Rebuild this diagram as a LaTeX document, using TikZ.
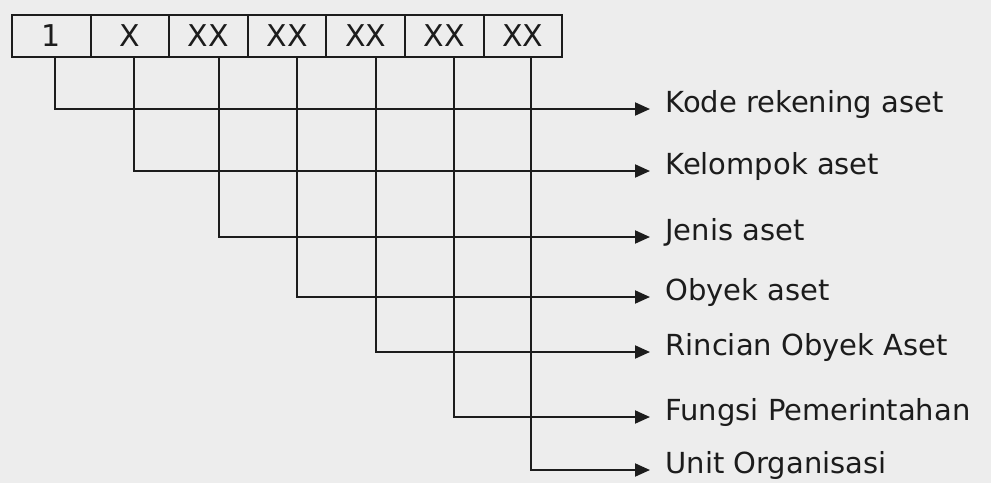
\documentclass[tikz,border=0pt]{standalone}
\usepackage{fontspec}
\setmainfont{DejaVu Sans}
\usepackage{xcolor}
\usepackage{tikz}
\usetikzlibrary{positioning,arrows.meta}
\definecolor{paper}{RGB}{237,237,237}
\definecolor{ink}{RGB}{28,28,28}

\begin{document}
\begin{tikzpicture}[x=0.5pt,y=-0.5pt,>={Triangle[length=7.5pt,width=6.5pt]},
  every node/.style={text=ink},
  cell/.style={draw=ink,line width=1pt,minimum width=39.3pt,minimum height=21pt,
    inner sep=0pt,outer sep=0pt,font=\fontsize{15}{18}\selectfont},
  lbl/.style={anchor=west,inner xsep=7.5pt,inner ysep=0pt,text height=3.5pt,
    text depth=0pt,font=\fontsize{14.5}{17}\selectfont},
  link/.style={draw=ink,line width=1pt,->}]
  \fill[paper] (0,0) rectangle (991,483);
  % kotak kode
  \node[cell] (c1) at (51.3,36) {1};
  \node[cell,right=0pt of c1] (c2) {X};
  \node[cell,right=0pt of c2] (c3) {XX};
  \node[cell,right=0pt of c3] (c4) {XX};
  \node[cell,right=0pt of c4] (c5) {XX};
  \node[cell,right=0pt of c5] (c6) {XX};
  \node[cell,right=0pt of c6] (c7) {XX};
  % keterangan
  \node[lbl] (k1) at (650,109) {Kode rekening aset};
  \node[lbl] (k2) at (650,171) {Kelompok aset};
  \node[lbl] (k3) at (650,237) {Jenis aset};
  \node[lbl] (k4) at (650,297) {Obyek aset};
  \node[lbl] (k5) at (650,352) {Rincian Obyek Aset};
  \node[lbl] (k6) at (650,417) {Fungsi Pemerintahan};
  \node[lbl] (k7) at (650,470) {Unit Organisasi};
  \draw[link] ([xshift=2pt]c1.south) |- (k1.west);
  \draw[link] ([xshift=2pt]c2.south) |- (k2.west);
  \draw[link] ([xshift=5pt]c3.south) |- (k3.west);
  \draw[link] ([xshift=5pt]c4.south) |- (k4.west);
  \draw[link] ([xshift=5pt]c5.south) |- (k5.west);
  \draw[link] ([xshift=5pt]c6.south) |- (k6.west);
  \draw[link] ([xshift=4pt]c7.south) |- (k7.west);
\end{tikzpicture}
\end{document}
